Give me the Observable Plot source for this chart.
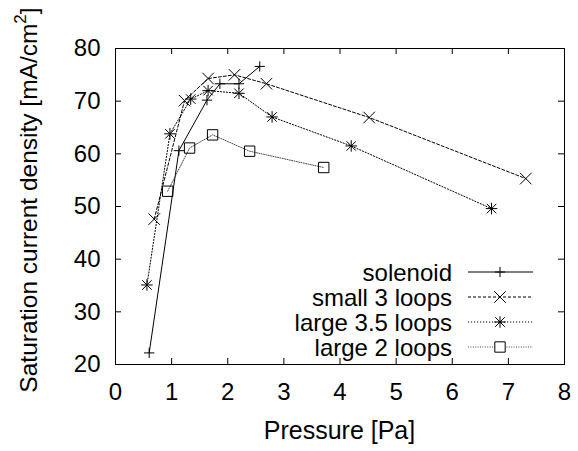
<!DOCTYPE html>
<html>
<head>
<meta charset="utf-8">
<script src="https://cdn.jsdelivr.net/npm/d3@7"></script>
<script src="https://cdn.jsdelivr.net/npm/@observablehq/plot@0.6"></script>
<style>
  html, body { margin: 0; padding: 0; background: white; }
  #chart svg { display: block; }
</style>
</head>
<body>
<div id="chart"></div>
<script>
// ---- data ----
const seriesNames = ["solenoid", "small 3 loops", "large 3.5 loops", "large 2 loops"];

const solenoidP = [0.60, 1.13, 1.63, 1.86, 2.20, 2.57];
const solenoidJ = [22.2, 60.6, 70.2, 73.3, 73.3, 76.6];

const small3P = [0.69, 1.23, 1.65, 2.12, 2.69, 4.52, 7.31];
const small3J = [47.6, 70.1, 74.3, 75.0, 73.3, 66.9, 55.3];

const large35P = [0.56, 0.97, 1.34, 1.65, 2.20, 2.79, 4.20, 6.70];
const large35J = [35.1, 63.8, 70.4, 72.0, 71.5, 67.0, 61.5, 49.6];

const large2P = [0.93, 1.32, 1.73, 2.39, 3.71];
const large2J = [52.9, 61.1, 63.6, 60.5, 57.4];

const xTicks = [0, 1, 2, 3, 4, 5, 6, 7, 8];
const yTicks = [20, 30, 40, 50, 60, 70, 80];

const xLabel = "Pressure [Pa]";
const yLabelMain = "Saturation current density [mA/cm";
const yLabelSup = "2";
const yLabelEnd = "]";

// ---- styles (each series may combine several stroke symbols) ----
const styles = [
  {symbols: [["plus", 3.4]],                  dash: null,      stroke: "#000", sw: 1},
  {symbols: [["times", 5.3]],                 dash: "3,2",     stroke: "#000", sw: 1},
  {symbols: [["plus", 3.8], ["times", 4.4]],  dash: "1.2,1.8", stroke: "#000", sw: 1},
  {symbols: [["square2", 6.6]],               dash: "1,1.4",   stroke: "#333", sw: 0.9}
];

const toRows = (P, J) => P.map((p, i) => ({p, j: J[i]}));
const series = [
  toRows(solenoidP, solenoidJ),
  toRows(small3P, small3J),
  toRows(large35P, large35J),
  toRows(large2P, large2J)
];

const W = 578, H = 451;
const mL = 115, mR = 14, mT = 48, mB = 87;
const innerH = H - mT - mB;
const innerW = W - mL - mR;
const tickLen = 6;
const FONT = "'Liberation Sans', Arial, Helvetica, sans-serif";

const marks = [];
series.forEach((rows, k) => {
  const s = styles[k];
  marks.push(Plot.line(rows, {x: "p", y: "j", stroke: s.stroke, strokeWidth: s.sw, strokeDasharray: s.dash}));
});
series.forEach((rows, k) => {
  const s = styles[k];
  s.symbols.forEach(([sym, r]) => {
    marks.push(Plot.dot(rows, {x: "p", y: "j", symbol: () => sym, r, fill: "none", stroke: "#000", strokeWidth: 1}));
  });
});

const chart = Plot.plot({
  width: W, height: H,
  marginLeft: mL, marginRight: mR, marginTop: mT, marginBottom: mB,
  x: {domain: [0, 8]},
  y: {domain: [20, 80]},
  symbol: {type: "identity"},
  style: {fontFamily: FONT, fontSize: "24px", color: "black", background: "white", overflow: "visible"},
  marks: [
    // inward ticks on all four sides
    Plot.ruleX(xTicks, {x: d => d, insetTop: innerH - tickLen, stroke: "#000"}),
    Plot.ruleX(xTicks, {x: d => d, insetBottom: innerH - tickLen, stroke: "#000"}),
    Plot.ruleY(yTicks, {y: d => d, insetRight: innerW - tickLen, stroke: "#000"}),
    Plot.ruleY(yTicks, {y: d => d, insetLeft: innerW - tickLen, stroke: "#000"}),
    Plot.axisX(xTicks, {anchor: "bottom", tickSize: 0, tickPadding: 18, fontSize: 24, label: null}),
    Plot.axisY(yTicks, {anchor: "left", tickSize: 0, tickPadding: 15, fontSize: 24, label: null}),
    ...marks,
    Plot.frame({stroke: "#000", strokeWidth: 1})
  ]
});

document.getElementById("chart").appendChild(chart);

// ---- axis titles and legend ----
const svg = d3.select(chart);
const xs = chart.scale("x");
const cx = (xs.range[0] + xs.range[1]) / 2;

svg.append("text")
  .attr("x", cx).attr("y", 439)
  .attr("text-anchor", "middle")
  .attr("font-family", FONT).attr("font-size", 25).attr("fill", "#000")
  .text(xLabel);

const yl = svg.append("text")
  .attr("transform", `translate(37,200) rotate(-90)`)
  .attr("text-anchor", "middle")
  .attr("font-family", FONT).attr("font-size", 24.5).attr("fill", "#000");
yl.append("tspan").text(yLabelMain);
yl.append("tspan").attr("font-size", 17).attr("dy", -11).text(yLabelSup);
yl.append("tspan").attr("dy", 11).text(yLabelEnd);

const symMap = {plus: d3.symbolPlus, times: d3.symbolTimes, square2: d3.symbolSquare2};
const leg = svg.append("g");
seriesNames.forEach((name, k) => {
  const s = styles[k];
  const yy = 272 + k * 25;
  leg.append("text")
    .attr("x", 452).attr("y", yy + 8.5)
    .attr("text-anchor", "end")
    .attr("font-family", FONT).attr("font-size", 24).attr("fill", "#000")
    .text(name);
  leg.append("line")
    .attr("x1", 468).attr("x2", 533).attr("y1", yy).attr("y2", yy)
    .attr("stroke", s.stroke).attr("stroke-width", s.sw)
    .attr("stroke-dasharray", s.dash);
  s.symbols.forEach(([sym, r]) => {
    leg.append("path")
      .attr("transform", `translate(500,${yy})`)
      .attr("d", d3.symbol(symMap[sym], Math.PI * r * r)())
      .attr("fill", sym === "square2" ? "#fff" : "none").attr("stroke", "#000").attr("stroke-width", 1);
  });
});
</script>
</body>
</html>
